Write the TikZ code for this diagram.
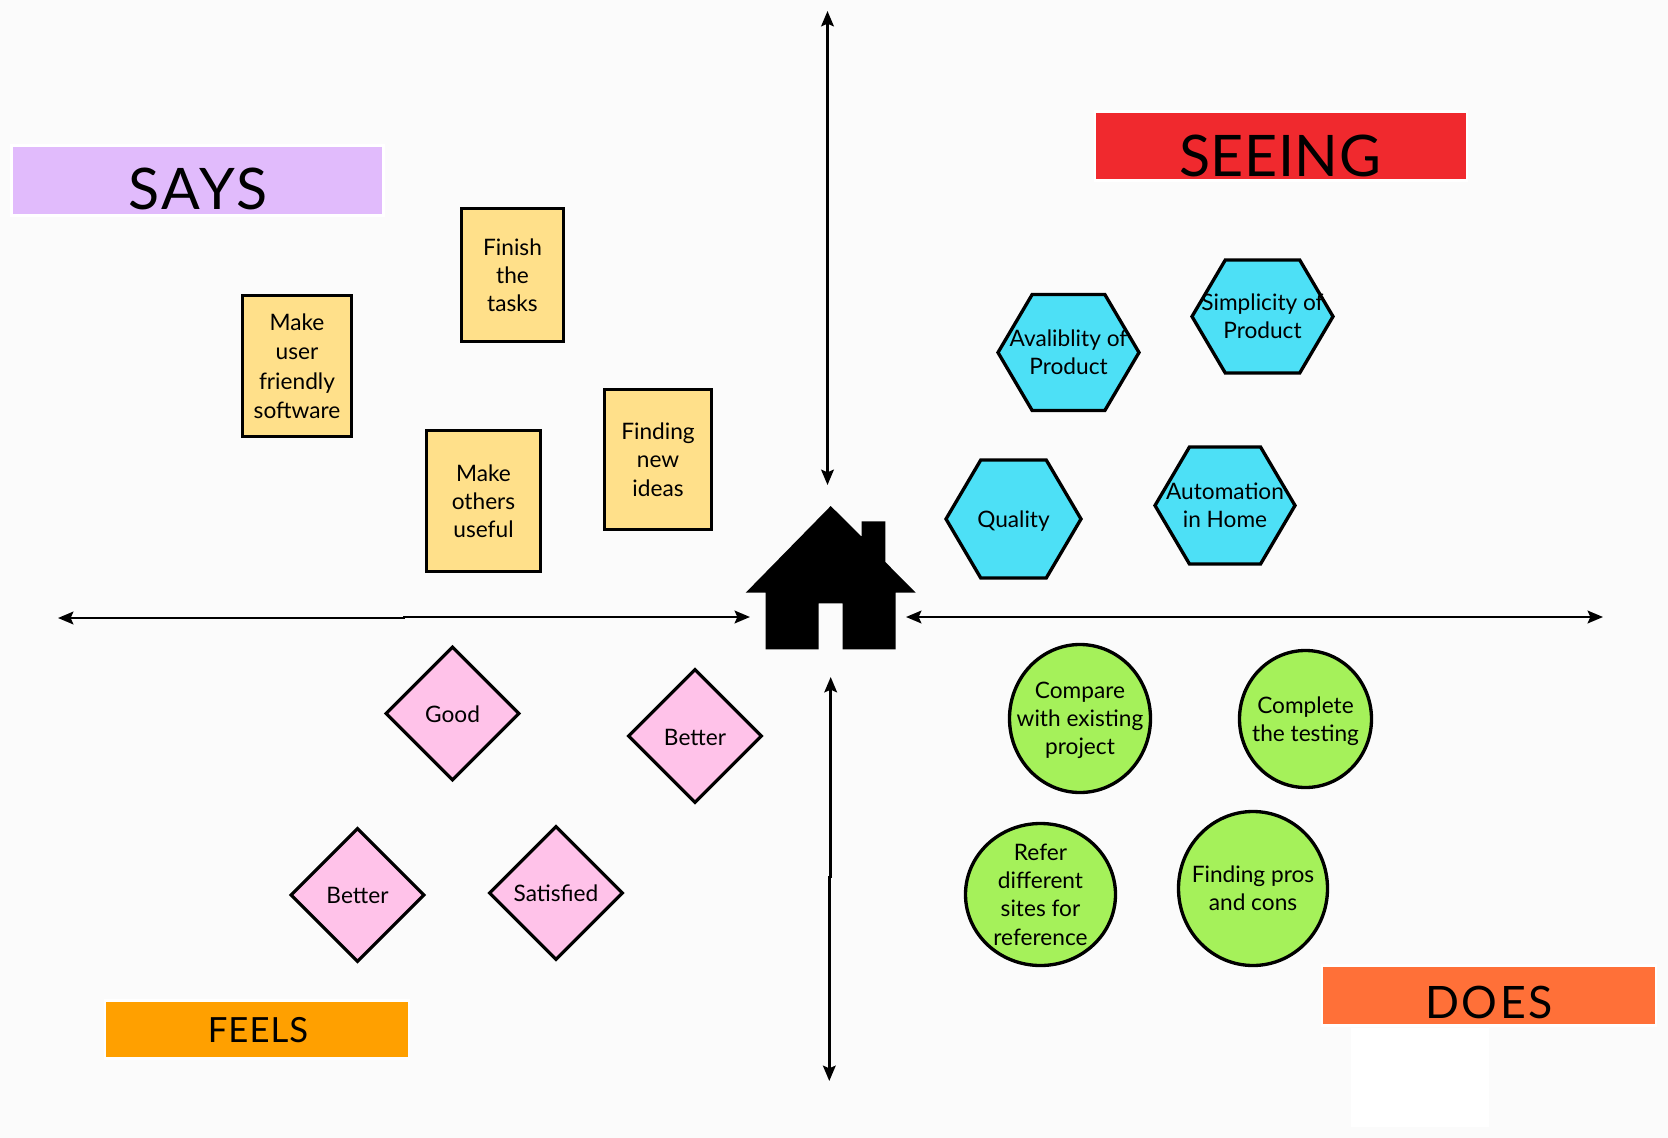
\documentclass[tikz,border=0pt]{standalone}
\usepackage{fontspec}
\setmainfont{Lato}
\usepackage{tikz}
\usetikzlibrary{arrows.meta, shapes.geometric, shapes.symbols}

\definecolor{pagebg}{HTML}{FBFBFB}
\definecolor{notefill}{HTML}{FFE08A}
\definecolor{hexfill}{HTML}{4DE0F6}
\definecolor{gemfill}{HTML}{FFC2E9}
\definecolor{discfill}{HTML}{A5F15A}

\begin{document}
\begin{tikzpicture}[
    x=0.75pt, y=-0.75pt,
    body/.style={font=\fontsize{17}{21.2}\selectfont, align=center, inner sep=0pt, text depth=0pt},
    tag/.style={draw=white, line width=2.2pt, inner sep=0pt,
        minimum width=#1*0.75pt},
    note/.style 2 args={
        draw, line width=2.9pt, fill=notefill, inner sep=0pt,
        minimum width=#1*0.75pt, minimum height=#2*0.75pt
    },
    hexa/.style 2 args={
        draw, line width=2.5pt, fill=hexfill, inner sep=0pt,
        signal, signal to=east and west, signal pointer angle=119,
        minimum width=#1*0.75pt, minimum height=#2*0.75pt
    },
    gem/.style={
        draw, line width=2.3pt, fill=gemfill, inner sep=0pt,
        diamond, aspect=1, minimum size=134*0.75pt
    },
    disc/.style 2 args={
        draw, line width=2.5pt, fill=discfill, inner sep=0pt,
        ellipse, minimum width=#1*0.75pt, minimum height=#2*0.75pt
    },
    arr/.style={<->, >={Stealth[length=11.5pt, width=9.5pt, inset=2pt]},
        line width=1.9pt}
]
    % Page
    \fill[pagebg] (0,0) rectangle (1668,1138);
    \useasboundingbox (0,0) rectangle (1668,1138);

    % Quadrant titles
    \node[tag=372, fill={rgb,255:red,225;green,187;blue,252}, minimum height=52pt] (says) at (197.5,180.5) {};
    \node[tag=372, fill={rgb,255:red,240;green,41;blue,46}, minimum height=52pt] (seeing) at (1281,146) {};
    \node[tag=304, fill={rgb,255:red,255;green,160;blue,0}, minimum height=43pt] (feels) at (257,1029.5) {};
    \node[tag=334, fill={rgb,255:red,255;green,112;blue,56}, minimum height=44.5pt] (does) at (1489,995.5) {};
    \node[font=\fontsize{43}{43}\selectfont\addfontfeature{LetterSpace=5}, inner sep=0pt] (saystxt) at (198,188.5) {SAYS};
    \node[font=\fontsize{43}{43}\selectfont\addfontfeature{LetterSpace=1}, inner sep=0pt] (seeingtxt) at (1280,156) {SEEING};
    \node[font=\fontsize{26}{26}\selectfont\addfontfeature{LetterSpace=3}, inner sep=0pt] (feelstxt) at (258,1030.5) {FEELS};
    \node[font=\fontsize{33.5}{33.5}\selectfont\addfontfeature{LetterSpace=5.5}, inner sep=0pt] (doestxt) at (1489,1002) {DOES};
    \node[fill=white, inner sep=0pt, minimum width=138*0.75pt, minimum height=99*0.75pt] (blank) at (1420,1077.5) {};

    % House
    \fill[black] (830.7,506) -- (861.7,536.7) -- (861.7,521.3) -- (885.3,521.3)
        -- (885.3,562) -- (915.7,592.7) -- (895.7,592.7) -- (895.7,649.3)
        -- (842.7,649.3) -- (842.7,603.3) -- (818.7,603.3) -- (818.7,649.3)
        -- (765.7,649.3) -- (765.7,592.7) -- (745.7,592.7) -- cycle;

    % Axis ends
    \coordinate (up1) at (827.5,11);
    \coordinate (up2) at (827.5,485);
    \coordinate (lf1) at (58,618);
    \coordinate (lf2) at (404,618);
    \coordinate (lf3) at (404,617);
    \coordinate (lf4) at (750,617);
    \coordinate (rt1) at (906,617);
    \coordinate (rt2) at (1603,617);
    \coordinate (dn1) at (830.7,677);
    \coordinate (dn2) at (830.7,877);
    \coordinate (dn3) at (829.3,877);
    \coordinate (dn4) at (829.3,1081);

    \draw[arr] (up1) -- (up2);
    \draw[arr] (lf1) -- (lf2) -- (lf3) -- (lf4);
    \draw[arr] (rt1) -- (rt2);
    \draw[arr] (dn1) -- (dn2) -- (dn3) -- (dn4);

    % Says
    \node[note={102}{133}] (finish) at (512.5,275) {};
    \node[note={109}{141}] (friendly) at (297,366) {};
    \node[note={114}{141}] (others) at (483.5,501) {};
    \node[note={107}{140}] (ideas) at (658,459.5) {};
    \node[body] (finishtxt) at (finish) {Finish\\the\\tasks};
    \node[body, font=\fontsize{17}{22}\selectfont] (friendlytxt) at (friendly) {Make\\user\\friendly\\software};
    \node[body] (otherstxt) at (others) {Make\\others\\useful};
    \node[body] (ideastxt) at (ideas) {Finding\\new\\ideas};

    % Seeing
    \node[hexa={141}{116}] (avail) at (1068.5,352.5) {};
    \node[hexa={141}{113}] (simple) at (1262.5,316.5) {};
    \node[hexa={135}{118}] (quality) at (1013.5,519) {};
    \node[hexa={140}{117}] (auto) at (1225,505.5) {};
    \node[body] (availtxt) at (avail) {Avaliblity of\\Product};
    \node[body] (simpletxt) at (simple) {Simplicity of\\Product};
    \node[body] (qualitytxt) at (quality) {Quality};
    \node[body] (autotxt) at (auto) {Automation\\in Home};

    % Feels
    \node[gem] (good) at (452.5,713.5) {};
    \node[gem] (betterup) at (695,736) {};
    \node[gem] (betterlow) at (357.5,895) {};
    \node[gem] (satisfied) at (556,893) {};
    \node[body] (goodtxt) at (452.5,714.5) {Good};
    \node[body] (betteruptxt) at (695,737) {Better};
    \node[body] (betterlowtxt) at (betterlow) {Better};
    \node[body] (satisfiedtxt) at (satisfied) {Satisfied};

    % Does
    \node[disc={141}{148}] (compare) at (1080,718.5) {};
    \node[disc={132}{137}] (testing) at (1305.5,719) {};
    \node[disc={150}{142}] (refer) at (1040.5,894.5) {};
    \node[disc={149}{154}] (pros) at (1253,888.5) {};
    \node[body] (comparetxt) at (compare) {Compare\\with existing\\project};
    \node[body] (testingtxt) at (testing) {Complete\\the testing};
    \node[body] (refertxt) at (refer) {Refer\\different\\sites for\\reference};
    \node[body] (prostxt) at (pros) {Finding pros\\and cons};
\end{tikzpicture}
\end{document}
